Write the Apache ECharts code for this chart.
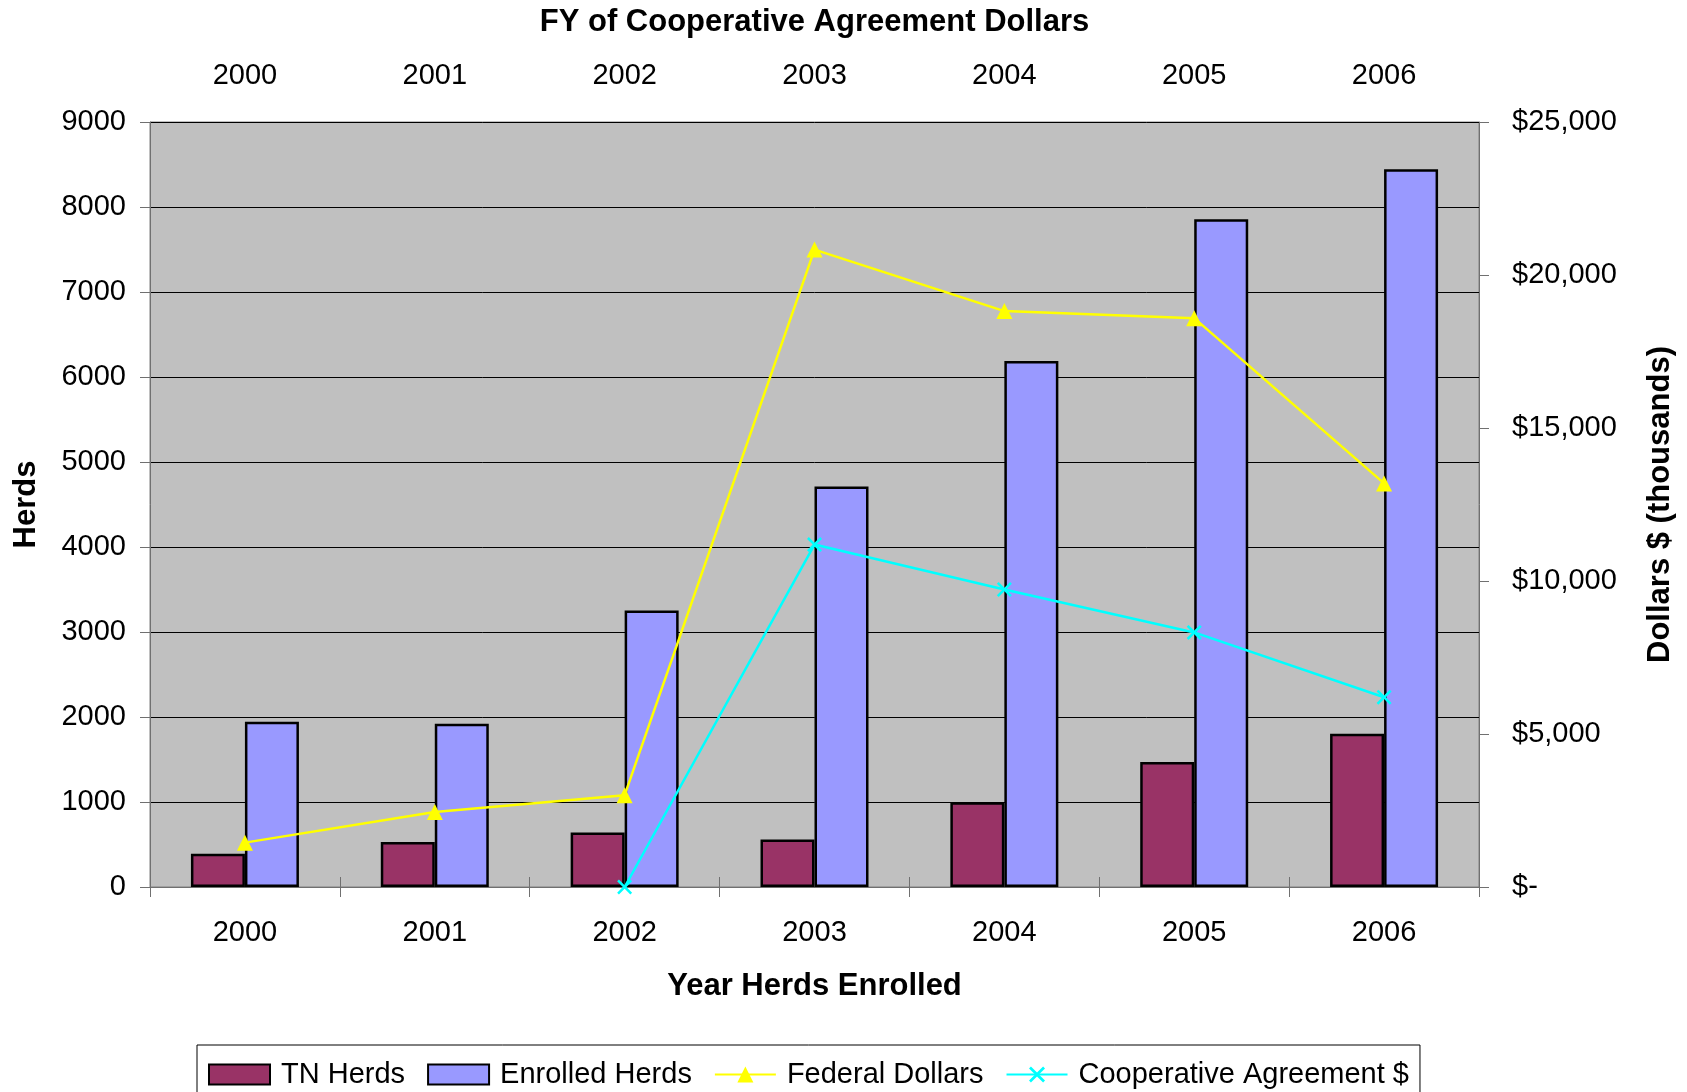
<!DOCTYPE html>
<html>
<head>
<meta charset="utf-8">
<title>Herds enrolled and dollars</title>
<script src="https://cdn.jsdelivr.net/npm/echarts@6/dist/echarts.min.js"></script>
<style>
  html, body { margin: 0; padding: 0; background: #fff; }
  #chart { width: 1687px; height: 1092px; }
</style>
</head>
<body>
<div id="chart"></div>
<script>
// data
const years = ["2000", "2001", "2002", "2003", "2004", "2005", "2006"];
const tnHerds = [390, 530, 640, 558, 998, 1470, 1802];
const enrolledHerds = [1945, 1921, 3253, 4712, 6189, 7857, 8445];
// thousands of dollars, right axis
const federalDollars = [1450, 2450, 3000, 20830, 18820, 18590, 13190];
const coopDollars = [null, null, 0, 11190, 9720, 8320, 6200];

const font = "'Liberation Sans', Arial, sans-serif";
const axisGray = "#707070";
// thin X marker
const xMark = "path://M0,1.2L1.2,0L5,3.8L8.8,0L10,1.2L6.2,5L10,8.8L8.8,10L5,6.2L1.2,10L0,8.8L3.8,5Z";

const chart = echarts.init(document.getElementById("chart"));

chart.setOption({
  animation: false,
  textStyle: { fontFamily: font, color: "#000" },
  grid: {
    left: 150,
    right: 208,
    top: 122,
    bottom: 205,
    show: true,
    backgroundColor: "#C0C0C0",
    borderColor: "#808080",
    borderWidth: 1,
    outerBoundsMode: "none",
  },
  legend: {
    left: 197,
    top: 1045,
    padding: [15, 11, 15, 11],
    borderColor: "#000",
    borderWidth: 1,
    itemWidth: 61,
    itemHeight: 20,
    itemGap: 22,
    textStyle: { fontSize: 29, fontFamily: font, color: "#000", padding: [0, 0, 0, 6] },
    data: [
      { name: "TN Herds", icon: "rect", itemStyle: { borderColor: "#000", borderWidth: 2 } },
      { name: "Enrolled Herds", icon: "rect", itemStyle: { borderColor: "#000", borderWidth: 2 } },
      { name: "Federal Dollars" },
      { name: "Cooperative Agreement $" },
    ],
  },
  xAxis: [
    {
      type: "category",
      position: "bottom",
      data: years,
      name: "Year Herds Enrolled",
      nameLocation: "middle",
      nameGap: 84,
      nameTextStyle: { fontSize: 31, fontWeight: "bold", fontFamily: font, color: "#000" },
      axisLine: { lineStyle: { color: axisGray, width: 1 } },
      axisTick: { show: true, length: 10, lineStyle: { color: axisGray } },
      axisLabel: { fontSize: 29, margin: 31, color: "#000" },
    },
    {
      type: "category",
      position: "top",
      data: years,
      name: "FY of Cooperative Agreement Dollars",
      nameLocation: "middle",
      nameGap: 84,
      nameTextStyle: { fontSize: 31, fontWeight: "bold", fontFamily: font, color: "#000" },
      axisLine: { lineStyle: { color: axisGray, width: 1 } },
      axisTick: { show: true, length: 10, lineStyle: { color: axisGray } },
      axisLabel: { fontSize: 29, margin: 32, color: "#000" },
    },
  ],
  yAxis: [
    {
      type: "value",
      position: "left",
      min: 0,
      max: 9000,
      interval: 1000,
      name: "Herds",
      nameLocation: "middle",
      nameRotate: 90,
      nameGap: 108,
      nameTextStyle: { fontSize: 31, fontWeight: "bold", fontFamily: font, color: "#000" },
      axisLine: { show: true, lineStyle: { color: axisGray, width: 1 } },
      axisTick: { show: true, length: 10, lineStyle: { color: axisGray } },
      axisLabel: { fontSize: 29, margin: 24, color: "#000", formatter: (v) => String(v) },
      splitLine: { show: true, lineStyle: { color: "#000", width: 1 } },
    },
    {
      type: "value",
      position: "right",
      min: 0,
      max: 25000,
      interval: 5000,
      name: "Dollars $ (thousands)",
      nameLocation: "middle",
      nameRotate: 90,
      nameGap: 166,
      nameTextStyle: { fontSize: 31, fontWeight: "bold", fontFamily: font, color: "#000" },
      axisLine: { show: true, lineStyle: { color: axisGray, width: 1 } },
      axisTick: { show: true, length: 10, lineStyle: { color: axisGray } },
      axisLabel: {
        fontSize: 29,
        margin: 33,
        color: "#000",
        formatter: (v) => (v === 0 ? "$-" : "$" + v.toLocaleString("en-US")),
      },
      splitLine: { show: false },
    },
  ],
  series: [
    {
      name: "TN Herds",
      type: "bar",
      data: tnHerds,
      barWidth: 54,
      barGap: "0%",
      itemStyle: { color: "#993366", borderColor: "#000", borderWidth: 2.5 },
    },
    {
      name: "Enrolled Herds",
      type: "bar",
      data: enrolledHerds,
      barWidth: 54,
      barGap: "0%",
      itemStyle: { color: "#9999FF", borderColor: "#000", borderWidth: 2.5 },
    },
    {
      name: "Federal Dollars",
      type: "line",
      yAxisIndex: 1,
      data: federalDollars,
      symbol: "triangle",
      symbolSize: 16,
      lineStyle: { color: "#FFFF00", width: 2.5 },
      itemStyle: { color: "#FFFF00" },
    },
    {
      name: "Cooperative Agreement $",
      type: "line",
      yAxisIndex: 1,
      data: coopDollars,
      symbol: xMark,
      symbolSize: 15,
      connectNulls: false,
      lineStyle: { color: "#00FFFF", width: 2.5 },
      itemStyle: { color: "#00FFFF" },
    },
  ],
});
</script>
</body>
</html>
